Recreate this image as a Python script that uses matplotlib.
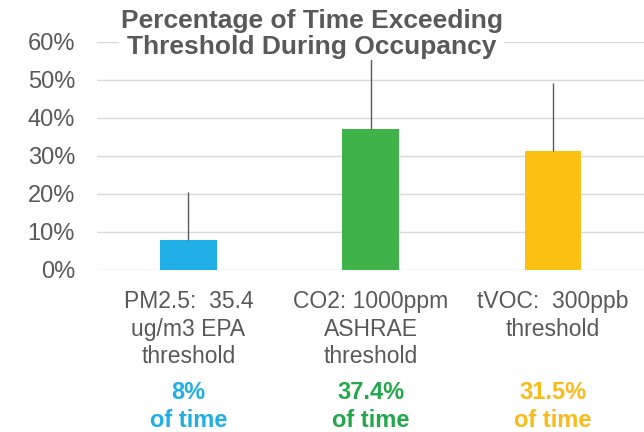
import matplotlib
matplotlib.use("Agg")
import matplotlib.pyplot as plt
import matplotlib.transforms as mtransforms

plt.rcParams['font.family'] = ['Liberation Sans', 'DejaVu Sans']

categories = ["PM2.5:  35.4\nug/m3 EPA\nthreshold",
              "CO2: 1000ppm\nASHRAE\nthreshold",
              "tVOC:  300ppb\nthreshold"]
values = [8.0, 37.0, 31.2]          # percent of time
err_top = [20.5, 58.0, 49.3]        # top of the error bar, percent
notes = ["8%\nof time", "37.4%\nof time", "31.5%\nof time"]
bar_colors = ["#1FAFE6", "#40B24A", "#FBC012"]
note_colors = ["#1FAFE6", "#22A84A", "#FBBA15"]
gray = "#595959"

fig = plt.figure(figsize=(6.44, 4.32), dpi=100)
ax = fig.add_axes([0.151, 0.375, 0.849, 0.528])

x = range(len(categories))
ax.bar(x, values, width=0.31, color=bar_colors, zorder=2)
upper = [t - v for t, v in zip(err_top, values)]
ax.errorbar(x, values, yerr=[[0] * len(values), upper], fmt="none",
            ecolor=gray, elinewidth=1, capsize=0, zorder=3)

ax.set_xlim(-0.5, 2.5)
ax.set_ylim(0, 60)
ax.set_yticks(range(0, 61, 10))
ax.set_yticklabels([f"{t}%" for t in range(0, 61, 10)])
ax.yaxis.grid(True, color="#D9D9D9", linewidth=1.0, zorder=0)
ax.set_axisbelow(True)
for s in ax.spines.values():
    s.set_visible(False)
ax.tick_params(axis="y", length=0, pad=16, labelsize=17, labelcolor=gray)
ax.tick_params(axis="x", length=0, pad=14.5, labelsize=16.5, labelcolor=gray)
ax.set_xticks(list(x))
ax.set_xticklabels(categories, linespacing=1.25)

trans = mtransforms.blended_transform_factory(ax.transData, fig.transFigure)
for i, (n, c) in enumerate(zip(notes, note_colors)):
    ax.text(i, 0.060, n, transform=trans, ha="center", va="center",
            fontsize=17, fontweight="bold", color=c, linespacing=1.27)

fig.text(0.484, 0.921, "Percentage of Time Exceeding\nThreshold During Occupancy",
         ha="center", va="center", fontsize=19, fontweight="bold",
         color=gray, linespacing=1.1, zorder=5,
         bbox=dict(facecolor="white", edgecolor="none", pad=1))

fig.savefig("out.png", dpi=100)
